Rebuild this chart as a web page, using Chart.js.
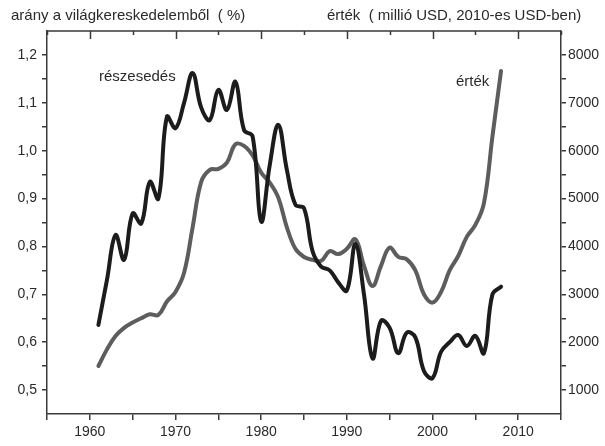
<!DOCTYPE html>
<html>
<head>
<meta charset="utf-8">
<style>
    html, body { margin: 0; padding: 0; background: #ffffff; }
    #wrap { width: 605px; height: 446px; }
</style>
<script src="https://cdn.jsdelivr.net/npm/chart.js@4"></script>
</head>
<body>
<div id="wrap"><canvas id="chart" width="605" height="446"></canvas></div>
<script>

/* data */

const years = [
    1961, 1962, 1963, 1964, 1965, 1966, 1967, 1968, 1969, 1970,
    1971, 1972, 1973, 1974, 1975, 1976, 1977, 1978, 1979, 1980,
    1981, 1982, 1983, 1984, 1985, 1986, 1987, 1988, 1989, 1990,
    1991, 1992, 1993, 1994, 1995, 1996, 1997, 1998, 1999, 2000,
    2001, 2002, 2003, 2004, 2005, 2006, 2007, 2008
];

// részesedés, % (left axis)
const shareValues = [
    0.636, 0.73, 0.824, 0.772, 0.869, 0.848, 0.935, 0.90, 1.071, 1.047,
    1.10, 1.162, 1.09, 1.064, 1.127, 1.085, 1.144, 1.043, 1.03, 0.852,
    0.97, 1.054, 0.96, 0.887, 0.88, 0.79, 0.758, 0.75, 0.725, 0.708,
    0.805, 0.70, 0.566, 0.645, 0.63, 0.577, 0.62, 0.61, 0.54, 0.525,
    0.58, 0.60, 0.615, 0.592, 0.613, 0.577, 0.70, 0.716
];

// érték, millió USD (right axis)
const valueValues = [
    1502, 1850, 2129, 2300, 2409, 2500, 2582, 2570, 2850, 3050,
    3450, 4400, 5350, 5600, 5620, 5750, 6134, 6100, 5900, 5543,
    5334, 5020, 4400, 3950, 3780, 3720, 3700, 3900, 3840, 3950,
    4149, 3600, 3174, 3600, 3976, 3780, 3730, 3500, 3000, 2827,
    3050, 3500, 3800, 4200, 4450, 4900, 6300, 7666
];

const xTicks = [ 1955, 1960, 1965, 1970, 1975, 1980, 1985, 1990, 1995, 2000, 2005, 2010, 2015 ];
const shareTicks = [ 0.5, 0.55, 0.6, 0.65, 0.7, 0.75, 0.8, 0.85, 0.9, 0.95, 1.0, 1.05, 1.1, 1.15, 1.2 ];
const valueTicks = [ 1000, 1500, 2000, 2500, 3000, 3500, 4000, 4500, 5000, 5500, 6000, 6500, 7000, 7500, 8000 ];

const leftTitle  = 'arány a világkereskedelemből  ( %)';
const rightTitle = 'érték  ( millió USD, 2010-es USD-ben)';
const shareLabel = 'részesedés';
const valueLabel = 'érték';

/* look */

const FONT = '"Liberation Sans", Arial, sans-serif';
const AXIS = '#3a3a3a';
const TEXT = '#2a2a2a';

function points( xs, ys )
{
    return xs.map( ( x, i ) => ( { x: x, y: ys[ i ] } ) );
}

function setTicks( list )
{
    return function( scale )
    {
        scale.ticks = list.map( v => ( { value: v } ) );
    };
}

// the top frame line with its inward ticks, and the free texts
const decorPlugin = {
    id : 'decor',
    afterDraw( chart )
    {
        const ctx = chart.ctx;
        const area = chart.chartArea;
        const xs = chart.scales.x;
        ctx.save();

        ctx.strokeStyle = AXIS;
        ctx.lineWidth = 1.5;
        ctx.beginPath();
        ctx.moveTo( area.left, area.top );
        ctx.lineTo( area.right, area.top );
        xTicks.forEach( v =>
        {
            const px = Math.round( xs.getPixelForValue( v ) ) + 0.5;
            const len = ( v % 10 === 0 ) ? 8 : 4;
            ctx.moveTo( px, area.top );
            ctx.lineTo( px, area.top + len );
        });
        ctx.stroke();

        ctx.fillStyle = TEXT;
        ctx.textBaseline = 'alphabetic';
        ctx.textAlign = 'left';
        ctx.font = '15px ' + FONT;
        ctx.fillText( leftTitle, 11, 20 );
        ctx.fillText( rightTitle, 327, 20 );

        ctx.font = '15px ' + FONT;
        ctx.fillText( shareLabel, 99, 81 );
        ctx.fillText( valueLabel, 456, 86 );

        ctx.restore();
    }
};

const gridCommon = {
    drawOnChartArea : false,
    drawTicks       : true,
    tickLength      : 5,
    color           : AXIS,
    tickColor       : AXIS,
    lineWidth       : 1.5,
};

const borderCommon = {
    display : true,
    color   : AXIS,
    width   : 1.5,
};

const tickFont = { family: FONT, size: 14 };

const chart = new Chart( document.getElementById( 'chart' ), {
    type : 'line',
    data : {
        datasets : [
            {
                label           : shareLabel,
                data            : points( years, shareValues ),
                yAxisID         : 'y',
                borderColor     : '#1c1c1c',
                borderWidth     : 4,
                pointRadius     : 0,
                tension         : 0.4,
                borderCapStyle  : 'round',
                borderJoinStyle : 'round',
            },
            {
                label           : valueLabel,
                data            : points( years, valueValues ),
                yAxisID         : 'y2',
                borderColor     : '#5d5d5d',
                borderWidth     : 4,
                pointRadius     : 0,
                tension         : 0.4,
                borderCapStyle  : 'round',
                borderJoinStyle : 'round',
            },
        ],
    },
    options : {
        responsive : false,
        animation  : false,
        layout     : { padding: { top: 31, left: 0, right: 0, bottom: 0 } },
        plugins    : {
            legend  : { display: false },
            tooltip : { enabled: false },
        },
        scales : {
            x : {
                type     : 'linear',
                position : 'bottom',
                min      : 1955,
                max      : 2015,
                afterBuildTicks : setTicks( xTicks ),
                afterFit : function( scale ) { scale.height = 32; },
                grid     : Object.assign( {}, gridCommon, { tickLength: 6 } ),
                border   : borderCommon,
                ticks    : {
                    color       : TEXT,
                    font        : tickFont,
                    padding     : 4,
                    maxRotation : 0,
                    autoSkip    : false,
                    callback    : v => ( v % 10 === 0 && v > 1955 && v < 2015 ) ? String( v ) : '',
                },
            },
            y : {
                type     : 'linear',
                position : 'left',
                min      : 0.45,
                max      : 1.25,
                afterBuildTicks : setTicks( shareTicks ),
                afterFit : function( scale ) { scale.width = 47; },
                grid     : gridCommon,
                border   : borderCommon,
                ticks    : {
                    color    : TEXT,
                    font     : tickFont,
                    padding  : 5,
                    autoSkip : false,
                    callback : v => ( Math.round( v * 100 ) % 10 === 0 ) ? v.toFixed( 1 ).replace( '.', ',' ) : '',
                },
            },
            y2 : {
                type     : 'linear',
                position : 'right',
                min      : 500,
                max      : 8500,
                afterBuildTicks : setTicks( valueTicks ),
                afterFit : function( scale ) { scale.width = 44; },
                grid     : gridCommon,
                border   : borderCommon,
                ticks    : {
                    color    : TEXT,
                    font     : tickFont,
                    padding  : 2,
                    autoSkip : false,
                    callback : v => ( v % 1000 === 0 ) ? String( v ) : '',
                },
            },
        },
    },
    plugins : [ decorPlugin ],
});
</script>
</body>
</html>
